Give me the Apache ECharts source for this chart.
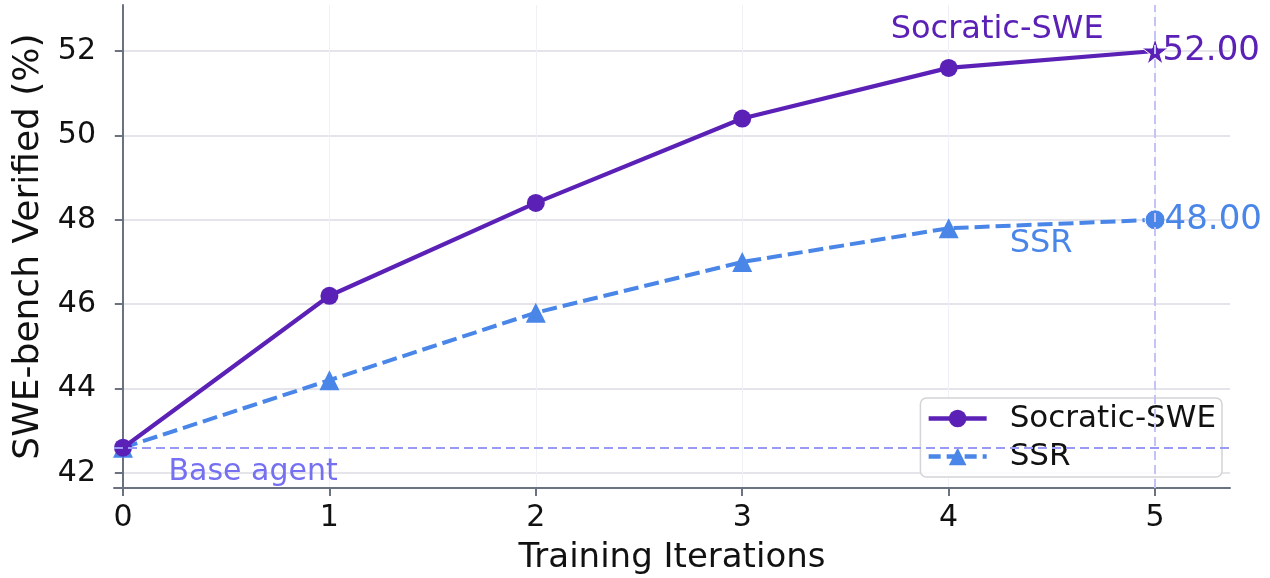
<!DOCTYPE html>
<html><head><meta charset="utf-8">
<script src="https://cdn.jsdelivr.net/npm/echarts@6/dist/echarts.min.js"></script>
<style>html,body{margin:0;padding:0;background:#fff}#c{width:1270px;height:578px}</style>
</head><body><div id="c"></div>
<script>
const iterations = [0, 1, 2, 3, 4, 5];
const socraticValues = [42.6, 46.2, 48.4, 50.4, 51.6, 52.0];
const ssrValues = [42.6, 44.2, 45.8, 47.0, 47.8, 48.0];
const baseAgent = 42.6;
const yTicks = [42, 44, 46, 48, 50, 52];
const xTicks = [0, 1, 2, 3, 4, 5];

const PURPLE = '#5b21b6';
const BLUE = '#4a86e8';
const FONT = 'DejaVu Sans';
const STAR = 'path://M50,0 L61,35 L98,35 L68,57 L79,91 L50,70 L21,91 L32,57 L2,35 L39,35 Z';

function pts(vals, lastSymbol, lastSize, labelColor, dist) {
  return vals.map((v, i) => {
    const d = { value: [iterations[i], v] };
    if (i === vals.length - 1) {
      d.symbol = lastSymbol;
      d.symbolSize = lastSize;
      d.itemStyle = { borderColor: '#fff', borderWidth: 1 };
      d.label = { show: true, position: 'right', distance: dist, formatter: v.toFixed(2),
        color: labelColor, fontSize: 34, fontFamily: FONT };
    }
    return d;
  });
}

const chart = echarts.init(document.getElementById('c'));
chart.setOption({
  animation: false,
  textStyle: { fontFamily: FONT },
  grid: { left: 114, right: 40, top: 5, bottom: 90, outerBoundsMode: 'none', containLabel: false },
  xAxis: {
    type: 'value', min: -0.0436, max: 5.363,
    name: 'Training Iterations', nameLocation: 'middle', nameGap: 53,
    nameTextStyle: { fontSize: 34, color: '#111', fontFamily: FONT },
    axisLine: { show: true, lineStyle: { color: '#6b7280', width: 2 } },
    axisTick: { show: true, customValues: xTicks, length: 8, lineStyle: { color: '#6b7280', width: 2 } },
    axisLabel: { customValues: xTicks, fontSize: 30, color: '#111', margin: 15 },
    splitLine: { show: true, lineStyle: { color: '#f0f0f8', width: 1 } }
  },
  yAxis: {
    type: 'value', min: 41.645, max: 53.09,
    name: 'SWE-bench Verified (%)', nameLocation: 'middle', nameGap: 66, nameRotate: 90,
    nameTextStyle: { fontSize: 36, color: '#111', fontFamily: FONT },
    axisLine: { show: true, lineStyle: { color: '#6b7280', width: 2 } },
    axisTick: { show: true, customValues: yTicks, length: 8, lineStyle: { color: '#6b7280', width: 2 } },
    axisLabel: { customValues: yTicks, fontSize: 30, color: '#111', margin: 18 },
    splitLine: { show: true, lineStyle: { color: '#e4e4ea', width: 2 } }
  },
  legend: {
    data: [
      { name: 'Socratic-SWE', lineStyle: { width: 4.5 } },
      { name: 'SSR', lineStyle: { width: 4.5, type: [12, 6] } }
    ],
    orient: 'vertical', right: 48, top: 398,
    itemWidth: 58, itemHeight: 22, itemGap: 7,
    backgroundColor: 'rgba(255,255,255,0.85)', borderColor: '#d4d4d8', borderWidth: 1.5, borderRadius: 6,
    padding: [5, 6, 5, 6],
    textStyle: { fontSize: 31, color: '#111', fontFamily: FONT, padding: [0, 0, 0, 18] }
  },
  series: [
    {
      name: 'SSR', type: 'line', z: 3,
      data: pts(ssrValues, 'circle', 20, BLUE, -1),
      symbol: 'triangle', symbolSize: 20,
      lineStyle: { color: BLUE, width: 4, type: [15, 6] },
      itemStyle: { color: BLUE },
      markPoint: {
        symbolSize: 0, silent: true,
        data: [{ coord: [4.448, 47.43], label: { show: true, formatter: 'SSR', color: BLUE, fontSize: 32, fontFamily: FONT } }]
      }
    },
    {
      name: 'Socratic-SWE', type: 'line', z: 4,
      data: pts(socraticValues, STAR, 26, PURPLE, -6),
      symbol: 'circle', symbolSize: 18,
      lineStyle: { color: PURPLE, width: 4.2 },
      itemStyle: { color: PURPLE },
      markPoint: {
        symbolSize: 0, silent: true,
        data: [{ coord: [4.235, 52.5], label: { show: true, formatter: 'Socratic-SWE', color: PURPLE, fontSize: 32, fontFamily: FONT } }]
      }
    },
    {
      name: 'refs', type: 'line', data: [], z: 1,
      markLine: {
        silent: true, symbol: 'none', label: { show: false },
        data: [
          { yAxis: baseAgent, lineStyle: { color: '#9a9af5', type: [9, 5], width: 2 } },
          { xAxis: 5, lineStyle: { color: '#c3c3f5', type: [9, 5], width: 2 } }
        ]
      },
      markPoint: {
        symbolSize: 0, silent: true,
        data: [{ coord: [0.63, 42.02], label: { show: true, formatter: 'Base agent', color: '#7570f2', fontSize: 30, fontFamily: FONT } }]
      }
    }
  ]
});
</script></body></html>
